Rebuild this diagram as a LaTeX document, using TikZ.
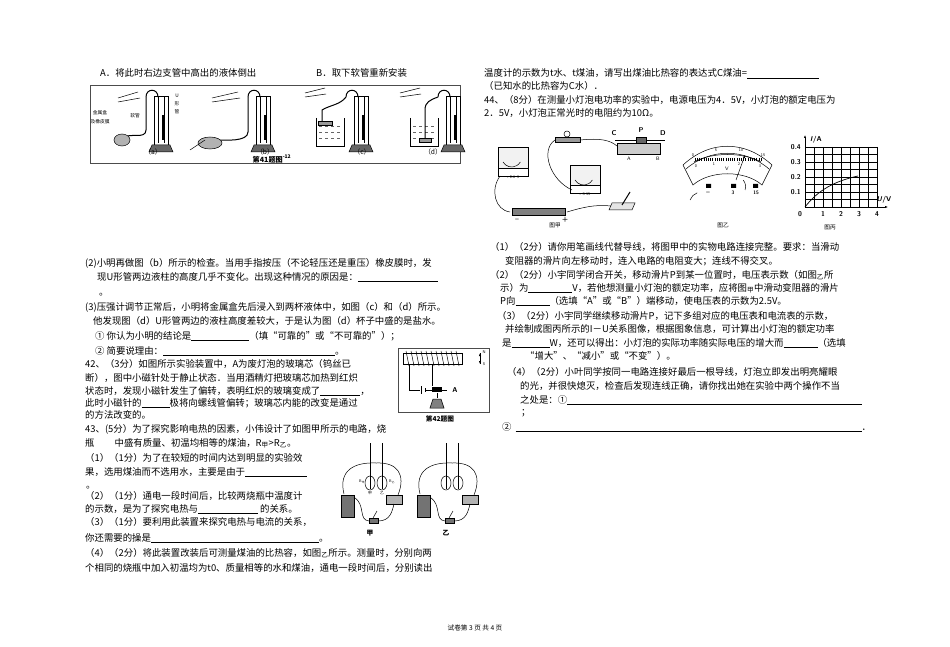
\documentclass[tikz,border=0pt]{standalone}
\usepackage{fontspec}
\setmainfont{Liberation Serif}
\newfontfamily\cjk{Noto Sans CJK SC}[Scale=0.95]
\usetikzlibrary{arrows.meta}
\newcommand{\blk}[1]{\rule[-1.5pt]{#1}{0.45pt}}
\newcommand{\sbc}[1]{\textsubscript{\cjk #1}}
\tikzset{
 tx/.style={anchor=base west,inner sep=0pt,font=\cjk\fontsize{9.9}{11}\selectfont},
 sm/.style={inner sep=0pt,font=\cjk\fontsize{7}{8}\selectfont},
 lb/.style={inner sep=0pt,font=\sffamily\bfseries\fontsize{7}{8}\selectfont},
 ln/.style={line width=0.5pt},
 tk/.style={line width=1pt},
}
\begin{document}
\begin{tikzpicture}[x=1pt,y=-1pt]
\useasboundingbox[fill=white] (0,0) rectangle (950,647);
% ---------- left column
\node[tx] (t1) at (100,77) {A．将此时右边支管中高出的液体倒出};
\node[tx] (t2) at (316,77) {B．取下软管重新安装};
\draw[ln,black!70] (90,85) rectangle (460,163);
\foreach \x/\l in {160/a,262/b,360/c,452/d}{
 \draw[ln] (\x-6,96) rectangle (\x+8,145);
 \draw[tk] (\x-2,97) -- (\x-2,143) (\x+4,97) -- (\x+4,143);
 \fill (\x+2,115) rectangle (\x+5,140);
 \draw[ln,fill=black!60] (\x-8,145) -- (\x+10,145) -- (\x+13,152) -- (\x-11,152) -- cycle;
 \draw[tk] (\x-2,97) .. controls (\x-2,88) and (\x-14,88) .. (\x-14,97);
}
\node[sm] at (153,152) {（a）};
\node[sm] at (265,152) {（b）};
\node[sm] at (362,152) {（c）};
\node[sm] at (433,152) {（d）};
\node[sm,font=\cjk\bfseries\fontsize{7.5}{8}\selectfont] (c41) at (272,159) {第41题图\textsuperscript{-12}};
% (a)
\draw[tk] (146,97) -- (146,130) .. controls (146,140) and (128,132) .. (125,138);
\draw[ln,fill=black!30] (122,140) ellipse (8 and 6);
\draw[ln] (118,98) -- (138,92) (118,102) -- (140,98);
\node[sm,font=\cjk\fontsize{5}{6}\selectfont] at (100,113) {金属盒};
\node[sm,font=\cjk\fontsize{5}{6}\selectfont] at (100,122) {及橡皮膜};
\node[sm,font=\cjk\fontsize{5}{6}\selectfont] at (135,116) {软管};
\node[sm,font=\cjk\fontsize{5}{6}\selectfont] at (177,96) {U};
\node[sm,font=\cjk\fontsize{5}{6}\selectfont] at (177,104) {形};
\node[sm,font=\cjk\fontsize{5}{6}\selectfont] at (177,112) {管};
% (b)
\draw[tk] (248,97) -- (248,132) .. controls (248,142) and (225,140) .. (218,140);
\draw[ln,fill=black!30] (210,143) ellipse (12 and 6);
\draw[ln] (212,98) -- (238,92) (212,102) -- (240,98) (190,150) -- (205,140);
% (c)
\draw[ln] (316,118) -- (316,146) -- (344,146) -- (344,118);
\foreach \y in {126,132,138}{\draw[ln,dashed,black!60] (319,\y) -- (341,\y);}
\draw[tk] (346,97) .. controls (340,105) and (330,105) .. (322,110) -- (322,122);
\draw[ln,fill=black!40] (318,121) rectangle (332,125);
\draw[ln] (305,93) -- (325,88) (305,97) -- (326,94);
% (d)
\draw[ln] (410,118) -- (410,146) -- (438,146) -- (438,118);
\foreach \y in {126,132,138}{\draw[ln,dashed,black!60] (413,\y) -- (435,\y);}
\draw[tk] (438,97) .. controls (430,100) and (425,102) .. (425,110) -- (425,138);
\draw[ln,fill=black!40] (419,138) rectangle (431,142);
\draw[ln] (400,93) -- (420,88) (400,97) -- (421,94);

\node[tx] (l1) at (85,266) {(2)小明再做图（b）所示的检查。当用手指按压（不论轻压还是重压）橡皮膜时，发};
\node[tx] (l2) at (97,280) {现U形管两边液柱的高度几乎不变化。出现这种情况的原因是：\blk{80pt}};
\node[tx] (l3) at (99,295) {。};
\node[tx] (l4) at (85,310) {(3)压强计调节正常后，小明将金属盒先后浸入到两杯液体中，如图（c）和（d）所示。};
\node[tx] (l5) at (93,324) {他发现图（d）U形管两边的液柱高度差较大，于是认为图（d）杯子中盛的是盐水。};
\node[tx] (l6) at (95,339) {① 你认为小明的结论是\blk{58pt}（填“可靠的”或“不可靠的”）；};
\node[tx] (l7) at (95,354) {② 简要说理由：\blk{172pt}。};
\node[tx] (l8) at (85,367) {42、（3分）如图所示实验装置中，A为废灯泡的玻璃芯（钨丝已};
\node[tx] (l9) at (85,381) {断），图中小磁针处于静止状态．当用酒精灯把玻璃芯加热到红炽};
\node[tx] (l10) at (85,394) {状态时，发现小磁针发生了偏转，表明红炽的玻璃变成了\blk{40pt}，};
\node[tx] (l11) at (85,406) {此时小磁针的\blk{28pt}极将向螺线管偏转；玻璃芯内能的改变是通过};
\node[tx] (l12) at (85,418) {的方法改变的。};
\node[tx] (l13) at (85,432) {43、(5分）为了探究影响电热的因素，小伟设计了如图甲所示的电路，烧};
\node[tx] (l14) at (85,446) {瓶\hspace{20pt}中盛有质量、初温均相等的煤油，R\sbc{甲}>R\sbc{乙}。};
\node[tx] (l15) at (85,461) {（1）（1分）为了在较短的时间内达到明显的实验效};
\node[tx] (l16) at (85,475) {果，选用煤油而不选用水，主要是由于\blk{62pt}};
\node[tx] (l17) at (86,488) {。};
\node[tx] (l18) at (85,499) {（2）（1分）通电一段时间后，比较两烧瓶中温度计};
\node[tx] (l19) at (85,512) {的示数，是为了探究电热与\blk{60pt} 的关系。};
\node[tx] (l20) at (85,525) {（3）（1分）要利用此装置来探究电热与电流的关系，};
\node[tx] (l21) at (85,541) {你还需要的操是\blk{168pt}。};
\node[tx] (l22) at (85,556) {（4）（2分）将此装置改装后可测量煤油的比热容，如图\sbc{乙}所示。测量时，分别向两};
\node[tx] (l23) at (85,571) {个相同的烧瓶中加入初温均为t0、质量相等的水和煤油，通电一段时间后，分别读出};
% fig 42
\draw[ln,black!70] (398,348) rectangle (489,412);
\draw[ln] (403,353) rectangle (462,364);
\foreach \i in {0,...,10}{\draw[ln] (406+5*\i,351) -- (409+5*\i,366);}
\draw[ln] (409,364) -- (409,390) -- (420,390);
\draw[tk] (421,386) -- (421,394) (425,388) -- (425,392);
\draw[ln] (425,390) -- (432,390);
\draw[ln] (432,364) -- (432,386);
\fill (432,387) rectangle (442,392);
\draw[ln] (442,390) -- (447,390);
\draw[ln] (437,393) -- (437,398);
\draw[ln,fill=black!50] (430,408) -- (433,399) -- (441,399) -- (444,408) -- cycle;
\node[lb] at (455,390) {A};
\draw[-{Latex[length=3pt]},ln] (480,353) -- (480,364);
\draw[-{Latex[length=3pt]},ln] (480,364) -- (480,353);
\node[lb,font=\sffamily\fontsize{4}{5}\selectfont] at (484,352) {N};
\node[lb,font=\sffamily\fontsize{4}{5}\selectfont] at (484,364) {S};
\node[sm,font=\cjk\bfseries\fontsize{7}{8}\selectfont] (c42) at (440,419) {第42题图};
% fig 43
\foreach \ox/\cap in {340/甲,416/乙}{
 \draw[ln] (\ox+30,483) ellipse (5 and 7) (\ox+42,483) ellipse (5 and 7);
 \draw[ln] (\ox+30,443) -- (\ox+30,489) (\ox+42,443) -- (\ox+42,489);
 \draw[ln] (\ox+30,470) -- (\ox+30,476) (\ox+42,470) -- (\ox+42,476);
 \draw[ln] (\ox+4,494) .. controls (\ox-2,470) and (\ox+15,462) .. (\ox+36,463) .. controls (\ox+58,462) and (\ox+66,475) .. (\ox+58,495);
 \draw[ln,fill=black!55] (\ox+1,495) rectangle (\ox+14,517);
 \draw[ln,fill=black!30] (\ox+46,495) rectangle (\ox+62,504);
 \draw[ln] (\ox+14,497) .. controls (\ox+26,505) and (\ox+18,520) .. (\ox+29,521);
 \draw[ln] (\ox+38,521) .. controls (\ox+50,521) and (\ox+52,512) .. (\ox+54,504);
 \draw[ln,fill=black!55] (\ox+29,518) rectangle (\ox+38,523);
 \draw[ln] (\ox+33,518) -- (\ox+37,511);
 \node[sm,font=\cjk\bfseries\fontsize{7}{8}\selectfont] at (\ox+30,533) {\cap};
}
\node[sm,font=\fontsize{4}{5}\selectfont] at (362,482) {R\sbc{甲}};
\node[sm,font=\fontsize{4}{5}\selectfont] at (392,482) {R\sbc{乙}};
\node[sm,font=\cjk\fontsize{4}{5}\selectfont] at (370,493) {甲};
\node[sm,font=\cjk\fontsize{4}{5}\selectfont] at (382,493) {乙};
% ---------- right column
\node[tx] (r1) at (484,77) {温度计的示数为t水、t煤油，请写出煤油比热容的表达式C煤油=\blk{72pt}};
\node[tx] (r2) at (484,90) {（已知水的比热容为C水）．};
\node[tx] (r3) at (484,104) {44、（8分）在测量小灯泡电功率的实验中，电源电压为4．5V，小灯泡的额定电压为};
\node[tx] (r4) at (484,117) {2．5V，小灯泡正常光时的电阻约为10Ω。};
% fig 甲
\draw[ln,fill=black!5] (498,147) rectangle (528,168);
\draw[ln] (498,168) rectangle (528,176);
\draw[ln] (503,162) arc (150:30:10);
\node[sm,font=\sffamily\fontsize{4}{5}\selectfont] at (513,177) {- 0.6 3};
\draw[ln,fill=black!5] (570,165) rectangle (600,185);
\draw[ln] (570,185) rectangle (600,193);
\draw[ln] (575,180) arc (150:30:10);
\node[sm,font=\sffamily\fontsize{4}{5}\selectfont] at (585,194) {- 3 15};
\draw[ln,fill=black!40] (555,137) rectangle (580,142);
\draw[ln] (567,134) circle (3);
\draw[ln,fill=black!20] (617,143) rectangle (660,154);
\draw[tk] (615,141) -- (665,141);
\draw[ln,fill=black!60] (636,137) rectangle (646,143);
\node[lb] at (614,133) {C};
\node[lb] at (641,130) {P};
\node[lb] at (663,133) {D};
\node[lb,font=\sffamily\fontsize{5}{6}\selectfont] at (629,159) {A};
\node[lb,font=\sffamily\fontsize{5}{6}\selectfont] at (658,159) {B};
\draw[ln,fill=black!50] (512,208) rectangle (565,215);
\node[lb] at (517,220) {–};
\node[lb] at (565,220) {+};
\draw[ln,fill=black!10] (612,203) -- (635,203) -- (632,210) -- (609,210) -- cycle;
\draw[tk] (622,205) -- (630,192);
\draw[ln] (500,176) .. controls (490,190) and (495,210) .. (510,212);
\draw[ln] (567,212) .. controls (590,205) and (600,205) .. (611,206);
\draw[ln] (580,140) .. controls (600,138) and (610,140) .. (617,146);
\draw[ln] (555,140) .. controls (540,150) and (550,180) .. (572,190);
\node[sm,font=\cjk\fontsize{6}{7}\selectfont] (g1) at (555,225) {图甲};
% fig 乙
\draw[ln] (683,165) .. controls (710,140) and (745,140) .. (772,165);
\draw[ln] (686,169) .. controls (710,148) and (745,148) .. (769,169);
\draw[ln] (683,165) -- (693,185) .. controls (710,170) and (745,170) .. (762,185) -- (772,165);
\draw[ln] (694,162) .. controls (712,152) and (743,152) .. (761,162);
\foreach \t in {0,...,30}{\pgfmathsetmacro\xx{695+\t*2.2}\draw[line width=0.3pt] (\xx,158) -- (\xx,161);}
\node[sm,font=\sffamily\fontsize{4}{5}\selectfont] at (693,155) {0};
\node[sm,font=\sffamily\fontsize{4}{5}\selectfont] at (716,150) {5};
\node[sm,font=\sffamily\fontsize{4}{5}\selectfont] at (741,150) {10};
\node[sm,font=\sffamily\fontsize{4}{5}\selectfont] at (763,155) {15};
\node[sm,font=\sffamily\fontsize{4}{5}\selectfont] at (696,166) {0};
\node[sm,font=\sffamily\fontsize{4}{5}\selectfont] at (714,164) {1};
\node[sm,font=\sffamily\fontsize{4}{5}\selectfont] at (739,164) {2};
\node[sm,font=\sffamily\fontsize{4}{5}\selectfont] at (760,166) {3};
\node[sm,font=\sffamily\fontsize{5}{6}\selectfont] at (727,169) {V};
\draw[ln,-{Latex[length=3pt]}] (736,180) -- (745,155);
\fill (706,184) rectangle (711,188) (731,184) rectangle (736,188) (753,184) rectangle (758,188);
\node[lb] at (708,193) {–};
\node[lb,font=\sffamily\bfseries\fontsize{5}{6}\selectfont] at (733,193) {3};
\node[lb,font=\sffamily\bfseries\fontsize{5}{6}\selectfont] at (756,193) {15};
\draw[ln] (690,200) arc (200:250:12) (745,190) arc (20:-40:10);
\node[sm,font=\cjk\fontsize{6}{7}\selectfont] (g2) at (723,225) {图乙};
% fig 丙
\foreach \i in {0,...,8}{\draw[line width=0.4pt] (805+9*\i,147) -- (805+9*\i,207);}
\foreach \j in {0,...,8}{\draw[line width=0.4pt] (805,147+7.5*\j) -- (877,147+7.5*\j);}
\draw[ln,-{Latex[length=3pt]}] (805,207) -- (805,135);
\draw[ln,-{Latex[length=3pt]}] (805,207) -- (888,207);
\draw[line width=0.7pt] (805,207) .. controls (818,190) and (835,181) .. (858,176);
\foreach \v/\y in {0.1/192,0.2/177,0.3/162,0.4/147}{\node[lb,anchor=east] at (801,\y) {\v};}
\foreach \v in {1,2,3,4}{\node[lb] at (805+18*\v,214) {\v};}
\node[lb] at (800,214) {0};
\node[lb] at (816,140) {\textit{I}/A};
\node[lb] at (884,200) {\textit{U}/V};
\node[sm,font=\cjk\fontsize{6}{7}\selectfont] (g3) at (830,227) {图丙};
% right text
\node[tx] (r5) at (490,250) {（1）（2分）请你用笔画线代替导线，将图甲中的实物电路连接完整。要求：当滑动};
\node[tx] (r6) at (505,264) {变阻器的滑片向左移动时，连入电路的电阻变大；连线不得交叉。};
\node[tx] (r7) at (490,278) {（2）（2分）小宇同学闭合开关，移动滑片P到某一位置时，电压表示数（如图\sbc{乙}所};
\node[tx] (r8) at (500,291) {示）为\blk{44pt}V，若他想测量小灯泡的额定功率，应将图\sbc{甲}中滑动变阻器的滑片};
\node[tx] (r9) at (500,304) {P向\blk{34pt}（选填“A”或“B”）端移动，使电压表的示数为2.5V。};
\node[tx] (r10) at (497,319) {（3）（2分）小宇同学继续移动滑片P，记下多组对应的电压表和电流表的示数，};
\node[tx] (r11) at (505,332) {并绘制成图丙所示的I－U关系图像，根据图象信息，可计算出小灯泡的额定功率};
\node[tx] (r12) at (502,346) {是\blk{38pt}W，还可以得出：小灯泡的实际功率随实际电压的增大而\blk{34pt}（选填};
\node[tx] (r13) at (525,359) {“增大”、“减小”或“不变”）。};
\node[tx] (r14) at (507,375) {（4）（2分）小叶同学按同一电路连接好最后一根导线，灯泡立即发出明亮耀眼};
\node[tx] (r15) at (520,389) {的光，并很快熄灭，检查后发现连线正确，请你找出她在实验中两个操作不当};
\node[tx] (r16) at (520,403) {之处是：①\blk{295pt}};
\node[tx] (r17) at (521,415) {；};
\node[tx] (r18) at (502,430) {②\hspace{4pt}\blk{346pt}．};
\node[sm,font=\cjk\fontsize{7}{8}\selectfont] (ft) at (475,628) {试卷第 3 页 共 4 页};
\end{tikzpicture}
\end{document}
